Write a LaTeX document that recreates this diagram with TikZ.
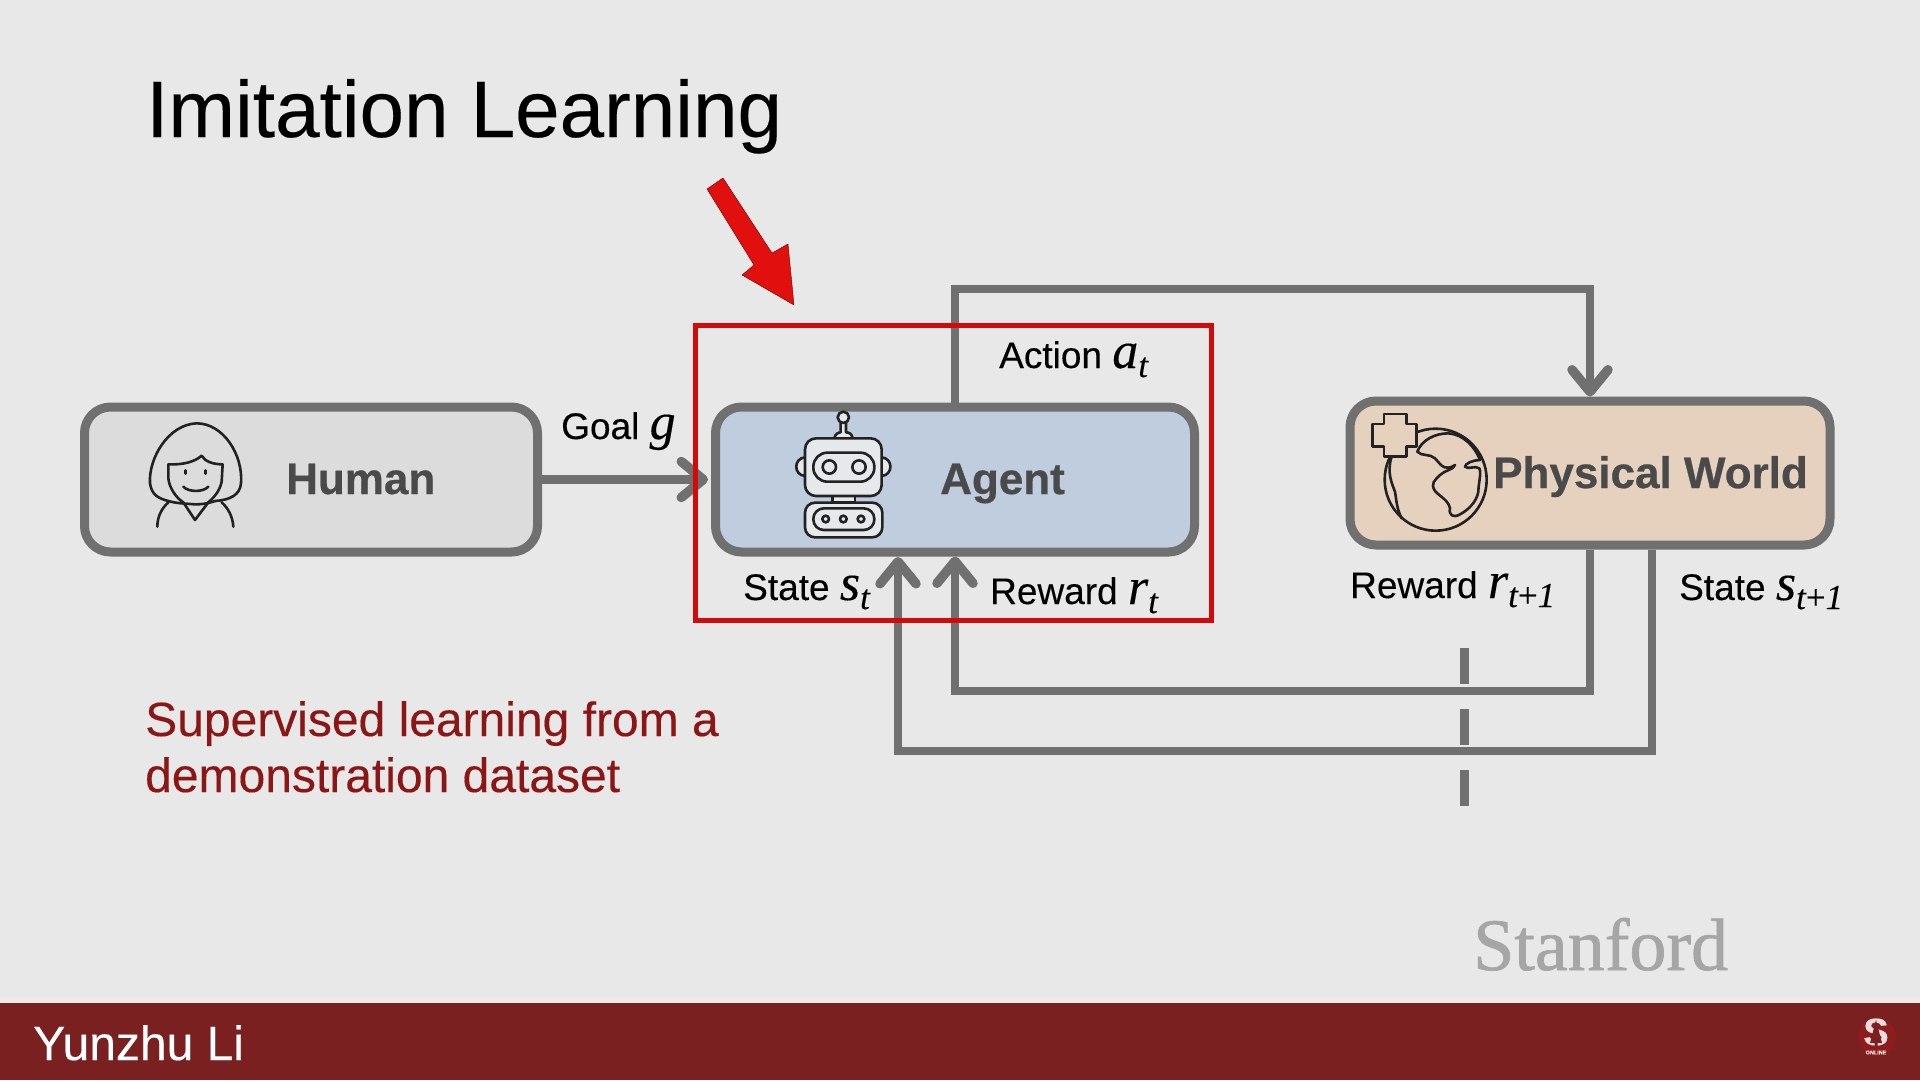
\documentclass[tikz,border=0pt]{standalone}
\usepackage{fontspec}
\setmainfont{Liberation Sans}[FakeBold=0.25]
\newfontfamily\heavyfam{Liberation Sans Bold}[FakeBold=0.6]
\newfontfamily\serfam{Liberation Serif}[FakeBold=0.2]
\newfontfamily\wordfam{Liberation Serif}[FakeBold=0.9]
\usetikzlibrary{arrows.meta}
\newcommand\fsz[1]{\fontsize{#1}{#1}\selectfont}
\newcommand\myvar[1]{{\serfam\itshape\fsz{52}#1}}
\newcommand\mysub[1]{\raisebox{-9pt}{\serfam\itshape\fsz{35}#1}}
\newcommand\tplus{\mysub{t{\upshape+}1}}
\definecolor{bgc}{HTML}{E8E8E8}
\definecolor{edgec}{HTML}{707070}
\definecolor{labelc}{HTML}{4A4A4A}
\definecolor{humanfill}{HTML}{DCDCDC}
\definecolor{agentfill}{HTML}{BFCDDF}
\definecolor{worldfill}{HTML}{E6D1BF}
\definecolor{redbox}{HTML}{D40A0A}
\definecolor{redarrow}{HTML}{E20F0F}
\definecolor{redtxt}{HTML}{8C1515}
\definecolor{barc}{HTML}{7A2020}
\definecolor{sealc}{HTML}{8E1C1C}
\definecolor{stanc}{HTML}{A6A6A6}
\definecolor{iconc}{HTML}{222222}
\definecolor{robotfill}{HTML}{E6E9EC}
\tikzset{
  boxnode/.style={draw=edgec,line width=9pt,rounded corners=26pt,inner sep=0pt},
  flow/.style={draw=edgec,line width=8.5pt,line join=miter,
    -{Straight Barb[length=22pt,width=36pt,round,line width=9.5pt]}},
  lab/.style={anchor=base west,inner sep=0pt,font=\fsz{37}},
  boxlabel/.style={anchor=base west,inner sep=0pt,text=labelc,font=\heavyfam\fsz{44}},
  icon/.style={draw=iconc,line width=2.6pt,line join=round,line cap=round},
}
\begin{document}
\begin{tikzpicture}[x=1pt,y=-1pt]
\useasboundingbox (0,0) rectangle (1920,1080);
\fill[bgc] (0,0) rectangle (1920,1080);
% footer
\fill[white!90!barc] (0,998) rectangle (1920,1003);
\fill[barc] (0,1003) rectangle (1920,1080);
\node[anchor=base west,inner sep=0pt,text=white,font=\fsz{48}] (speaker) at (33,1060) {Yunzhu Li};
\node[anchor=base west,inner sep=0pt,text=stanc,font=\wordfam\fsz{74}] (wordmark) at (1473,970) {Stanford};
% seal
\fill[sealc] (1877,1037) circle (19);
\node[inner sep=0pt,text=white!85!barc,font=\heavyfam\fsz{38}] (seal) at (1876,1032) {S};
\fill[barc] (1876,1020) -- (1882,1043) -- (1877.5,1043) -- (1877.5,1047) -- (1874.5,1047) -- (1874.5,1043) -- (1870,1043) -- cycle;
\node[inner sep=0pt,text=white!85!barc,font=\bfseries\fsz{5.5}] (sealtxt) at (1876,1052.5) {ONLINE};
% title
\node[anchor=base west,inner sep=0pt,font=\fsz{80}] (title) at (146,137) {Imitation Learning};
% note
\node[anchor=base west,inner sep=0pt,text=redtxt,font=\fsz{48}] (note1) at (145,736) {Supervised learning from a};
\node[anchor=base west,inner sep=0pt,text=redtxt,font=\fsz{48}] (note2) at (145,792) {demonstration dataset};
% boxes
\node[boxnode,fill=humanfill,minimum width=453pt,minimum height=145pt] (human) at (311,479.5) {};
\node[boxnode,fill=agentfill,minimum width=479pt,minimum height=145pt] (agent) at (955,479.5) {};
\node[boxnode,fill=worldfill,minimum width=480pt,minimum height=144pt] (world) at (1590,473) {};
\node[boxlabel] (humanlabel) at (286,494) {Human};
\node[boxlabel] (agentlabel) at (940,494) {Agent};
\node[boxlabel] (worldlabel) at (1493,488) {Physical World};
% anchors for connectors
\coordinate (topcorner) at (955,289);
\coordinate (rewardcorner) at (955,691);
\coordinate (statecorner) at (898,751);
\coordinate (statein) at (898,557);
\coordinate (rewardout) at (1590,550);
\coordinate (stateout) at (1652,550);
\coordinate (dashtop) at (1464,648);
\coordinate (dashbottom) at (1464,807);
% connectors
\draw[flow] (human.east) -- (708,479.5);
\draw[flow] (agent.north) |- (topcorner) -| (world.north);
\draw[flow] (rewardout) |- (rewardcorner) -- (agent.south);
\draw[flow] (stateout) |- (statecorner) -- (statein);
\draw[draw=edgec,line width=9pt,dash pattern=on 36pt off 25pt] (dashtop) -- (dashbottom);
% red highlight
\node[draw=redbox,line width=5pt,inner sep=0pt,minimum width=516pt,minimum height=295pt] (focus) at (953,473) {};
\fill[redarrow,draw=red!40!black,line width=.4pt] (707,189) -- (723,178) -- (772,253) -- (788,244) -- (794,305) -- (742,275) -- (754,265) -- cycle;
% labels
\node[lab] (goal) at (561,439) {Goal \myvar{g}};
\node[lab] (action) at (999,368) {Action \myvar{a}\mysub{t}};
\node[lab] (statet) at (743,600) {State \myvar{s}\mysub{t}};
\node[lab] (rewardt) at (990,604) {Reward \myvar{r}\mysub{t}};
\node[lab] (rewardnext) at (1350,598) {Reward \myvar{r}\tplus};
\node[lab] (statenext) at (1679,600) {State \myvar{s}\tplus};
% human icon
\begin{scope}[shift={(140,415)},scale=1/3]
\draw[icon] (85,258) .. controls (55,250) and (35,240) .. (30,205) .. controls (25,130) and (85,28) .. (170,25) .. controls (250,25) and (310,120) .. (303,205) .. controls (300,240) and (270,255) .. (225,258);
\draw[icon] (85,258) .. controls (110,265) and (125,265) .. (165,268) .. controls (190,268) and (205,265) .. (225,258);
\draw[icon] (85,148) .. controls (130,150) and (165,140) .. (185,122) .. controls (195,140) and (220,148) .. (248,148);
\draw[icon] (85,148) -- (85,190) .. controls (88,220) and (110,250) .. (130,262);
\draw[icon] (248,148) -- (245,200) .. controls (240,225) and (225,245) .. (205,262);
\draw[icon] (137,166) -- (137,176);
\draw[icon] (196,166) -- (196,176);
\draw[icon] (130,215) .. controls (145,232) and (190,232) .. (205,215);
\draw[icon] (130,262) -- (165,315) -- (205,262);
\draw[icon] (52,335) .. controls (52,305) and (65,280) .. (85,262);
\draw[icon] (280,335) .. controls (278,305) and (265,280) .. (245,262);
\end{scope}
% robot icon
\begin{scope}[shift={(780,400)},scale=1/3]
\draw[icon,fill=robotfill] (75,172) .. controls (40,175) and (40,225) .. (75,228);
\draw[icon,fill=robotfill] (305,172) .. controls (340,175) and (340,225) .. (305,228);
\draw[icon,fill=robotfill] (158,288) rectangle (225,308);
\draw[icon,fill=robotfill] (163,115) .. controls (165,102) and (175,97) .. (182,97) -- (182,68) -- (198,68) -- (198,97) .. controls (208,97) and (216,102) .. (218,115);
\draw[icon,fill=robotfill] (190,52) circle (17);
\draw[icon,fill=robotfill,rounded corners=11pt] (75,115) rectangle (305,288);
\draw[icon,rounded corners=14pt] (100,158) rectangle (283,245);
\draw[icon] (148,201) circle (20);
\draw[icon] (237,201) circle (20);
\draw[icon,fill=robotfill,rounded corners=10pt] (75,308) rectangle (307,412);
\draw[icon,rounded corners=10.5pt] (100,325) rectangle (283,390);
\draw[icon] (137,357) circle (10);
\draw[icon] (190,357) circle (10);
\draw[icon] (243,357) circle (10);
\end{scope}
% globe icon
\begin{scope}[shift={(1380,405)},scale=1/3]
\draw[icon] (167,224) circle (153);
\draw[icon] (35,155) .. controls (20,200) and (35,235) .. (45,260) .. controls (50,290) and (50,310) .. (65,340);
\draw[icon] (112,140) .. controls (125,105) and (165,85) .. (205,85) .. controls (250,88) and (285,125) .. (300,165);
\draw[icon] (112,140) .. controls (125,155) and (150,145) .. (165,160) .. controls (180,175) and (185,190) .. (205,188) .. controls (215,188) and (220,182) .. (225,180) .. controls (220,195) and (195,195) .. (180,210) .. controls (165,225) and (150,235) .. (165,258) .. controls (180,275) and (205,285) .. (210,310) .. controls (205,330) and (220,340) .. (240,328) .. controls (265,315) and (290,290) .. (295,260) .. controls (295,235) and (305,205) .. (298,190) .. controls (285,180) and (265,195) .. (255,185) .. controls (255,175) and (280,165) .. (300,165);
\draw[icon,fill=worldfill] (12,27) -- (80,27) -- (80,57) -- (110,57) -- (110,125) -- (80,125) -- (80,155) -- (12,155) -- (12,125) -- (-22,125) -- (-22,57) -- (12,57) -- cycle;
\end{scope}
\end{tikzpicture}
\end{document}
